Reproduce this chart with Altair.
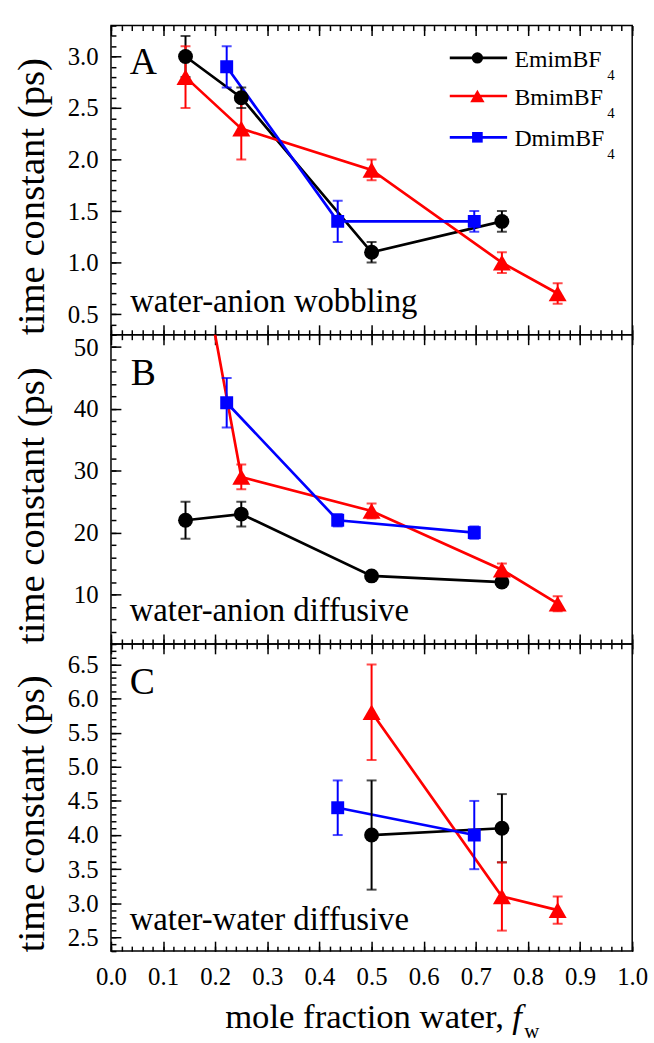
import altair as alt
import pandas as pd

FONT = "Liberation Serif, Times New Roman, serif"

series = ["EmimBF4", "BmimBF4", "DmimBF4"]
series_names = ["EmimBF", "BmimBF", "DmimBF"]
colors = ["#000000", "#ff0000", "#0000ff"]
shapes = ["circle", "triangle-up", "square"]
marker_sizes = [225, 330, 170]
legend_sizes = [130, 210, 115]

# ---------------- Panel A : water-anion wobbling ----------------
a_emim_x = [0.143, 0.250, 0.500, 0.750]
a_emim_y = [3.0, 2.6, 1.1, 1.4]
a_emim_e = [0.2, 0.1, 0.1, 0.1]
a_bmim_x = [0.143, 0.250, 0.500, 0.750, 0.857]
a_bmim_y = [2.8, 2.3, 1.9, 1.0, 0.7]
a_bmim_e = [0.3, 0.3, 0.1, 0.1, 0.1]
a_dmim_x = [0.222, 0.435, 0.697]
a_dmim_y = [2.9, 1.4, 1.4]
a_dmim_e = [0.2, 0.2, 0.1]

# ---------------- Panel B : water-anion diffusive ----------------
b_emim_x = [0.143, 0.250, 0.500, 0.750]
b_emim_y = [22.0, 23.0, 13.0, 12.0]
b_emim_e = [3.0, 2.0, 0.5, 0.5]
b_bmim_x = [0.143, 0.250, 0.500, 0.750, 0.857]
b_bmim_y = [78.0, 29.0, 23.5, 14.0, 8.5]
b_bmim_e = [0.0, 2.0, 1.2, 1.0, 1.2]
b_dmim_x = [0.222, 0.435, 0.697]
b_dmim_y = [41.0, 22.0, 20.0]
b_dmim_e = [4.0, 1.0, 1.0]

# ---------------- Panel C : water-water diffusive ----------------
c_emim_x = [0.500, 0.750]
c_emim_y = [4.0, 4.1]
c_emim_e = [0.8, 0.5]
c_bmim_x = [0.500, 0.750, 0.857]
c_bmim_y = [5.8, 3.1, 2.9]
c_bmim_e = [0.7, 0.5, 0.2]
c_dmim_x = [0.435, 0.697]
c_dmim_y = [4.4, 4.0]
c_dmim_e = [0.4, 0.5]

# axis tick values
x_major = [round(i * 0.1, 1) for i in range(11)]
x_minor = [round(i * 0.02, 2) for i in range(51)]
a_major = [0.5, 1.0, 1.5, 2.0, 2.5, 3.0]
a_minor = [round(0.3 + i * 0.1, 1) for i in range(31)]
b_major = [10, 20, 30, 40, 50]
b_minor = [2 + 2 * i for i in range(26)]
c_major = [2.5, 3.0, 3.5, 4.0, 4.5, 5.0, 5.5, 6.0, 6.5]
c_minor = [round(2.3 + i * 0.1, 1) for i in range(46)]

W = 526
HA, HB, HC = 312, 312, 310

color_scale = alt.Scale(domain=series, range=colors)
shape_scale = alt.Scale(domain=series, range=shapes)
msize = dict(zip(series, marker_sizes))
lsize = dict(zip(series, legend_sizes))


def make_df(blocks):
    rows = []
    for s, xs, ys, es in blocks:
        for x, y, e in zip(xs, ys, es):
            rows.append(dict(series=s, x=x, y=y, lo=y - e, hi=y + e, e=e,
                             msize=msize[s]))
    return pd.DataFrame(rows)


def tick_axis(orient, offset, values, size):
    return alt.Axis(orient=orient, offset=offset, values=values, tickSize=size,
                    tickWidth=1.5, tickColor="black", ticks=True, labels=False,
                    domain=False, grid=False, title=None)


def panel(df, ydom, H, y_major, y_minor, yfmt, show_x_labels, texts, extra=None):
    xs = alt.Scale(domain=[0, 1], nice=False, zero=False)
    ys = alt.Scale(domain=ydom, nice=False, zero=False)

    def X(field, axis=None):
        return alt.X(field, type="quantitative", scale=xs, axis=axis)

    def Y(field, axis=None):
        return alt.Y(field, type="quantitative", scale=ys, axis=axis)

    color = alt.Color("series:N", scale=color_scale, legend=None)

    ylab = alt.Axis(orient="left", values=y_major, format=yfmt, ticks=False, tickSize=0,
                    domain=False, grid=False, labelFont=FONT, labelFontSize=25,
                    labelColor="black", labelPadding=13, labelOverlap=False,
                    labelFlush=False,
                    title="time constant (ps)", titleFont=FONT, titleFontSize=39,
                    titleFontWeight="normal", titleColor="black", titleAngle=270,
                    titleBaseline="middle", titleAlign="center", titleX=-80,
                    titleY=H / 2 + 16)
    if show_x_labels:
        xlab = alt.Axis(orient="bottom", values=x_major, format=".1f", ticks=False,
                        tickSize=0, domain=False, grid=False, labelFont=FONT,
                        labelFontSize=25, labelColor="black", labelPadding=14,
                        labelFlush=False, labelOverlap=False, title=None)
    else:
        xlab = None

    base = alt.Chart(df)
    line = base.mark_line(strokeWidth=2.7, clip=True).encode(
        x=X("x", xlab), y=Y("y", ylab), color=color)
    errdf = base.transform_filter("datum.e > 0")
    err = errdf.mark_rule(strokeWidth=2, clip=True).encode(
        x=X("x"), y=Y("lo"), y2="hi", color=color)
    cap_lo = errdf.mark_tick(orient="horizontal", size=10, thickness=2, clip=True).encode(
        x=X("x"), y=Y("lo"), color=color)
    cap_hi = errdf.mark_tick(orient="horizontal", size=10, thickness=2, clip=True).encode(
        x=X("x"), y=Y("hi"), color=color)
    pts = base.mark_point(filled=True, opacity=1, clip=True).encode(
        x=X("x"), y=Y("y"), color=color,
        shape=alt.Shape("series:N", scale=shape_scale, legend=None),
        size=alt.Size("msize:Q", scale=None, legend=None))
    txt = alt.Chart(texts).mark_text(font=FONT, align="left", baseline="alphabetic",
                                     color="black").encode(
        x=X("x"), y=Y("y"), text="text:N", size=alt.Size("fs:Q", scale=None))

    inv = base.mark_point(opacity=0, clip=True)
    t1 = inv.encode(x=X("x", tick_axis("top", -H, x_major, 10)),
                    y=Y("y", tick_axis("right", -W, y_major, 10)))
    t2 = inv.encode(x=X("x", tick_axis("top", -H, x_minor, 5)),
                    y=Y("y", tick_axis("right", -W, y_minor, 5)))
    t3 = inv.encode(x=X("x", tick_axis("bottom", -H, x_major, 10)), y=Y("y"))
    t4 = inv.encode(x=X("x", tick_axis("bottom", -H, x_minor, 5)), y=Y("y"))

    layers = [line, err, cap_lo, cap_hi, pts, txt]
    if extra is not None:
        layers += extra(X, Y, color)
    layers += [t1, t2, t3, t4]
    return alt.layer(*layers).resolve_axis(x="independent", y="independent").properties(
        width=W, height=H)


df_a = make_df([(series[0], a_emim_x, a_emim_y, a_emim_e),
                (series[1], a_bmim_x, a_bmim_y, a_bmim_e),
                (series[2], a_dmim_x, a_dmim_y, a_dmim_e)])
df_b = make_df([(series[0], b_emim_x, b_emim_y, b_emim_e),
                (series[1], b_bmim_x, b_bmim_y, b_bmim_e),
                (series[2], b_dmim_x, b_dmim_y, b_dmim_e)])
df_c = make_df([(series[0], c_emim_x, c_emim_y, c_emim_e),
                (series[1], c_bmim_x, c_bmim_y, c_bmim_e),
                (series[2], c_dmim_x, c_dmim_y, c_dmim_e)])

texts_a = pd.DataFrame({"x": [0.036, 0.037], "y": [2.826, 0.518],
                        "text": ["A", "water-anion wobbling"], "fs": [38, 33]})
texts_b = pd.DataFrame({"x": [0.038, 0.036], "y": [43.9, 5.69],
                        "text": ["B", "water-anion diffusive"], "fs": [38, 33]})
texts_c = pd.DataFrame({"x": [0.036, 0.036], "y": [6.07, 2.61],
                        "text": ["C", "water-water diffusive"], "fs": [38, 33]})

legend_y = [2.986, 2.617, 2.216]
leg_df = pd.DataFrame({"series": series, "label": series_names, "y": legend_y})
leg_df["msize"] = [lsize[s] for s in series]
leg_df["x1"] = 0.65
leg_df["x2"] = 0.76
leg_df["xm"] = 0.703
leg_df["xt"] = 0.774
leg_df["xs"] = 0.952


def legend_layers(X, Y, color):
    lb = alt.Chart(leg_df)
    r = lb.mark_rule(strokeWidth=2.7).encode(x=X("x1"), x2="x2", y=Y("y"), color=color)
    p = lb.mark_point(filled=True, opacity=1).encode(
        x=X("xm"), y=Y("y"), color=color,
        shape=alt.Shape("series:N", scale=shape_scale, legend=None),
        size=alt.Size("msize:Q", scale=None, legend=None))
    t = lb.mark_text(font=FONT, fontSize=24, align="left", baseline="alphabetic",
                     dy=9, color="black").encode(x=X("xt"), y=Y("y"), text="label:N")
    s = lb.mark_text(font=FONT, fontSize=15, align="left", baseline="alphabetic",
                     dy=22, color="black").encode(x=X("xs"), y=Y("y"), text=alt.value("4"))
    return [r, p, t, s]


xtitle_df = pd.DataFrame({"x": [0.219, 0.770, 0.793]})


def xtitle_layers(X, Y, color):
    b = alt.Chart(xtitle_df)
    m = b.transform_filter("datum.x < 0.5").mark_text(
        font=FONT, fontSize=35, align="left", baseline="alphabetic", color="black").encode(
        x=X("x"), y=alt.value(HC + 78), text=alt.value("mole fraction water,"))
    f = b.transform_filter("datum.x > 0.76 && datum.x < 0.78").mark_text(
        font=FONT, fontSize=35, fontStyle="italic", align="left", baseline="alphabetic",
        color="black").encode(x=X("x"), y=alt.value(HC + 78), text=alt.value("f"))
    w = b.transform_filter("datum.x > 0.78").mark_text(
        font=FONT, fontSize=21, align="left", baseline="alphabetic", color="black").encode(
        x=X("x"), y=alt.value(HC + 88), text=alt.value("w"))
    return [m, f, w]


pA = panel(df_a, [0.3, 3.3], HA, a_major, a_minor, ".1f", False, texts_a, legend_layers)
pB = panel(df_b, [2, 52], HB, b_major, b_minor, "d", False, texts_b)
pC = panel(df_c, [2.3, 6.8], HC, c_major, c_minor, ".1f", True, texts_c, xtitle_layers)

chart = alt.vconcat(pA, pB, pC, spacing=0, bounds="flush").configure_view(
    stroke="black", strokeWidth=1.5).properties(
    padding={"left": 12, "top": 19, "right": 5, "bottom": 2},
    background="white")

chart.save("out.html", embed_options={"renderer": "svg", "actions": False})
